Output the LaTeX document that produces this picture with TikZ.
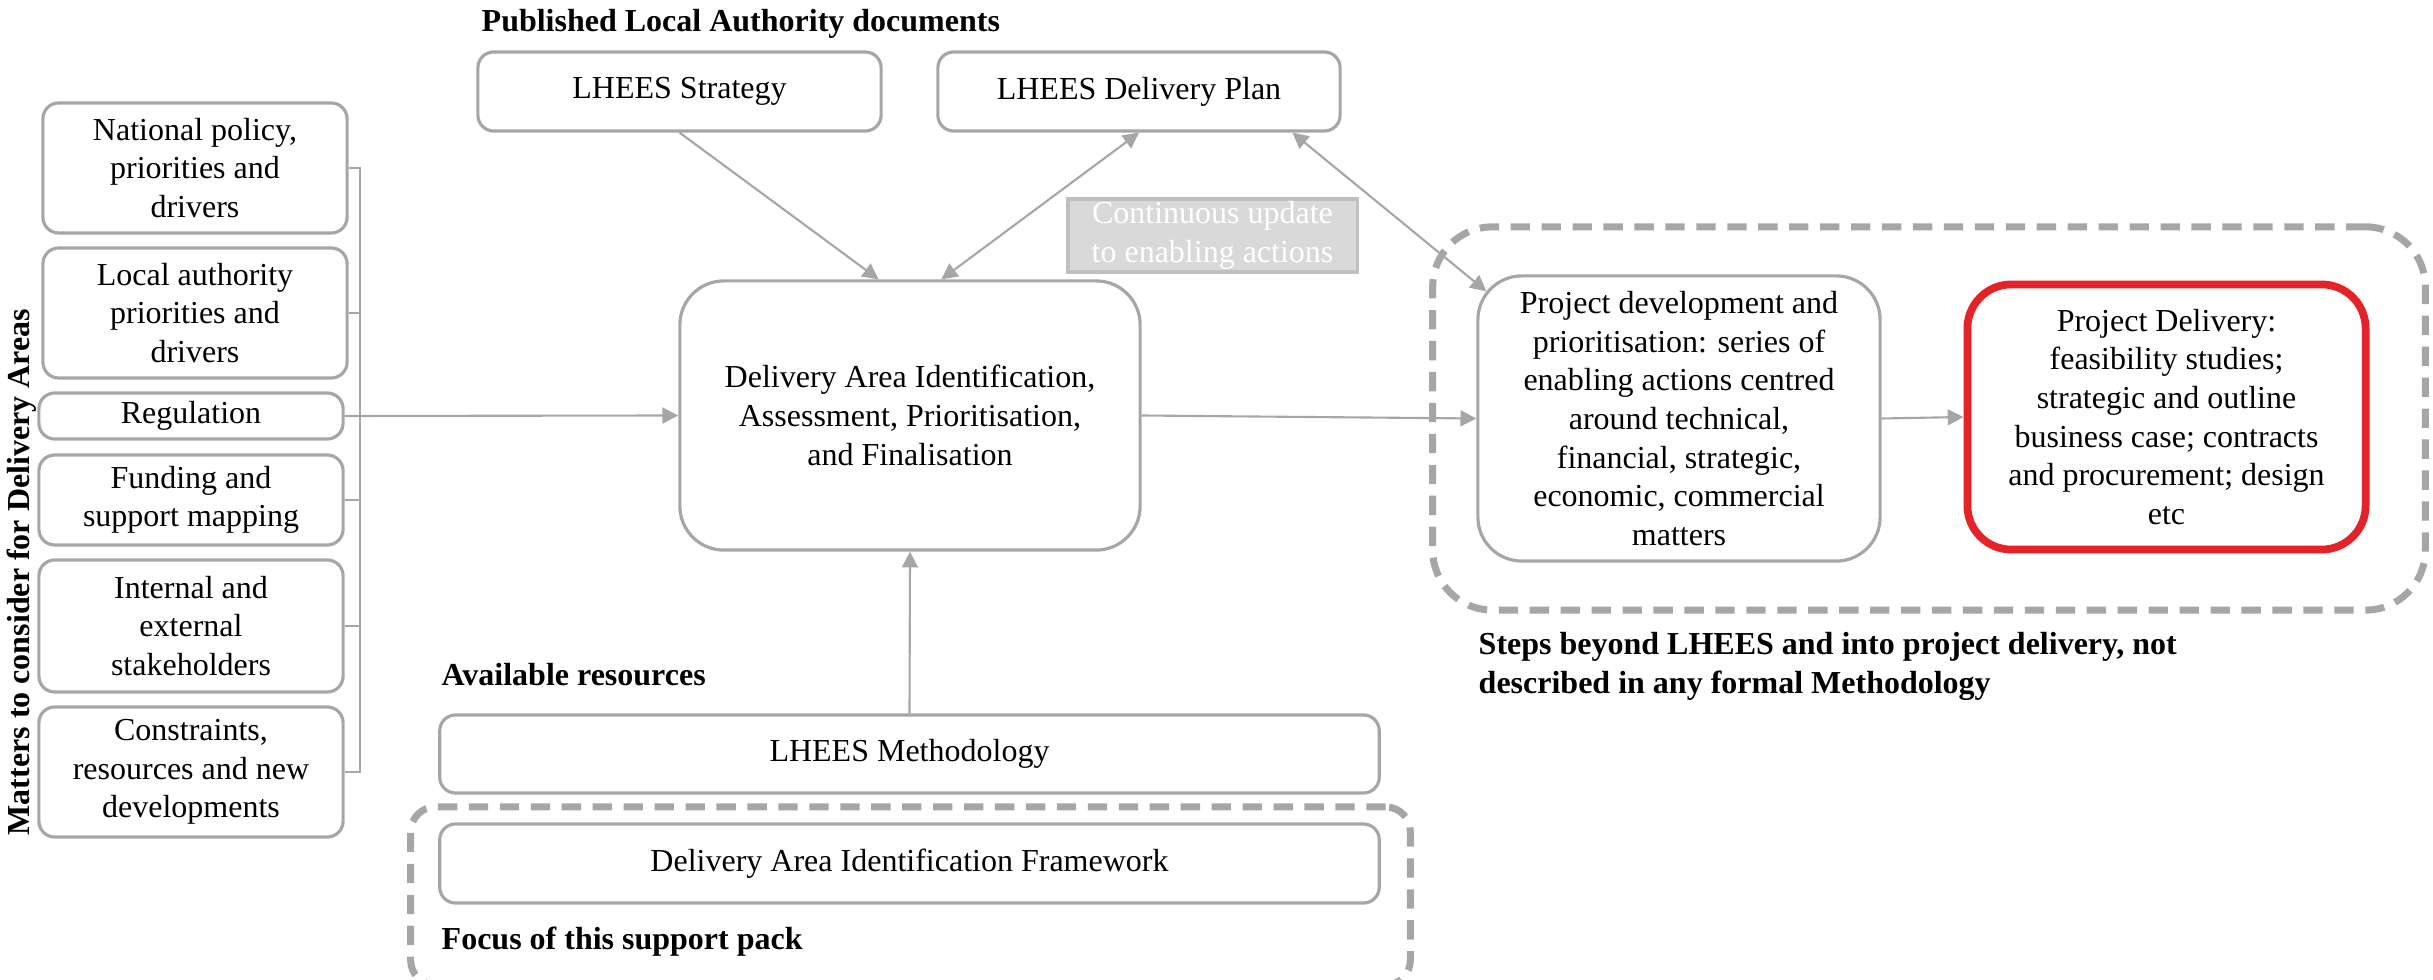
\documentclass[tikz,border=0pt]{standalone}
\usepackage{fontspec}
\setmainfont{Liberation Serif}
\usetikzlibrary{arrows.meta,calc}
\definecolor{lg}{HTML}{A6A6A6}
\definecolor{cg}{HTML}{D9D9D9}
\definecolor{cb}{HTML}{BFBFBF}
\definecolor{rd}{HTML}{E42228}
\begin{document}
\begin{tikzpicture}[x=0.01cm,y=-0.01cm, font=\fontsize{9.1}{11}\selectfont,
  box/.style={draw=lg, line width=0.9pt, rounded corners=4.5pt, fill=white, align=center, inner sep=0pt},
  bigbox/.style={box, rounded corners=12.5pt},
  ln/.style={draw=lg, line width=0.6pt},
  arr/.style={ln, -{Triangle[length=4.5pt,width=4.5pt]}},
  darr/.style={ln, {Triangle[length=4.5pt,width=4.5pt]}-{Triangle[length=4.5pt,width=4.5pt]}},
  dbox/.style={draw=lg, line width=2pt, dash pattern=on 5.5pt off 3.3pt, inner sep=0pt},
  lbl/.style={font=\fontsize{9.1}{11}\selectfont\bfseries, inner sep=0pt},
]
\useasboundingbox (0,0) rectangle (2433,980);

% dashed groups
\node[dbox, rounded corners=17pt, minimum width=9.92cm, minimum height=3.83cm] (grp) at (1929,418.5) {};
\node[dbox, rounded corners=7pt, minimum width=9.99cm, minimum height=1.78cm] (focusgrp) at (910.5,896) {};

% left column
\node[box, minimum width=3.04cm, minimum height=1.30cm] (nat) at (195,168) {National policy,\\priorities and\\drivers};
\node[box, minimum width=3.04cm, minimum height=1.30cm] (loc) at (195,313) {Local authority\\priorities and\\drivers};
\node[box, minimum width=3.04cm, minimum height=0.46cm] (reg) at (191,416) {Regulation};
\node[box, minimum width=3.04cm, minimum height=0.90cm] (fund) at (191,500) {Funding and\\support mapping};
\node[box, minimum width=3.04cm, minimum height=1.32cm] (intl) at (191,626) {Internal and\\external\\stakeholders};
\node[box, minimum width=3.04cm, minimum height=1.30cm] (cons) at (191,772) {Constraints,\\resources and new\\developments};

% top documents
\node[box, minimum width=4.03cm, minimum height=0.79cm] (strat) at (679.5,91.5) {LHEES Strategy};
\node[box, minimum width=4.02cm, minimum height=0.79cm] (plan) at (1139,91.5) {LHEES Delivery Plan};
\node[draw=cb, fill=cg, text=white, line width=0.9pt, align=center, inner sep=0pt, minimum width=2.89cm, minimum height=0.73cm] (cont) at (1212.5,235.5) {Continuous update\\to enabling actions};

% main
\node[bigbox, minimum width=4.60cm, minimum height=2.69cm] (main) at (910,415.5) {Delivery Area Identification,\\Assessment, Prioritisation,\\and Finalisation};

% right
\node[bigbox, minimum width=4.02cm, minimum height=2.85cm] (pd) at (1679,418.5) {Project development and\\prioritisation: series of\\enabling actions centred\\around technical,\\financial, strategic,\\economic, commercial\\matters};
\node[bigbox, draw=rd, line width=2.2pt, minimum width=3.98cm, minimum height=2.65cm] (pdel) at (2166.5,417) {Project Delivery:\\feasibility studies;\\strategic and outline\\business case; contracts\\and procurement; design\\etc};

% bottom
\node[box, minimum width=9.39cm, minimum height=0.78cm] (meth) at (909.5,754) {LHEES Methodology};
\node[box, minimum width=9.39cm, minimum height=0.79cm] (daif) at (909.5,863.5) {Delivery Area Identification Framework};

% labels
\node[lbl, anchor=base west] (pub) at (481,32) {Published Local Authority documents};
\node[lbl, anchor=base west] (avail) at (441,686) {Available resources};
\node[lbl, anchor=base west] (focus) at (441,950) {Focus of this support pack};
\node[lbl, anchor=north west, align=left] (steps) at (1478,632) {Steps beyond LHEES and into project delivery, not\\described in any formal Methodology};
\node[lbl, rotate=90, anchor=base west] (matt) at (29,836) {Matters to consider for Delivery Areas};

% connectors
\coordinate (bx) at (360,0);
\draw[ln] (nat.east) -- (nat.east -| bx) -- (cons.east -| bx) -- (cons.east);
\foreach \n in {loc,fund,intl} \draw[ln] (\n.east) -- (\n.east -| bx);
\draw[arr] (reg.east) -- (main.west);
\draw[arr] (strat.south) -- (main.103);
\draw[darr] (plan.south) -- (main.77);
\coordinate (pdc) at ($(pd.north west)+(10,17)$);
\draw[darr] (plan.-15) -- (pdc);
\draw[arr] (main.east) -- (pd.west);
\draw[arr] (pd.east) -- (pdel.west);
\draw[arr] (meth.north) -- (main.south);
\end{tikzpicture}
\end{document}
